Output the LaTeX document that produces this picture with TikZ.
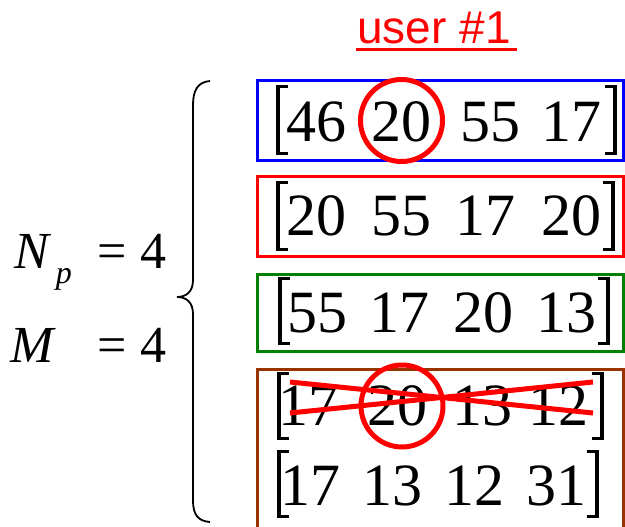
\documentclass[tikz,border=0pt]{standalone}
\usepackage{fontspec}
\setmainfont{Liberation Serif}
\newfontfamily\numfont{Liberation Serif}
\newfontfamily\titlefont{Liberation Sans}
\definecolor{boxgreen}{RGB}{0,128,0}
\definecolor{boxbrown}{RGB}{153,51,0}
\newcommand{\lbrk}[3]{\fill (#1,#2) rectangle (#1+4,#3); \fill (#1,#2) rectangle (#1+12,#2+3); \fill (#1,#3-3) rectangle (#1+12,#3);}
\newcommand{\rbrk}[3]{\fill (#1-4,#2) rectangle (#1,#3); \fill (#1-12,#2) rectangle (#1,#2+3); \fill (#1-12,#3-3) rectangle (#1,#3);}
\begin{document}
\begin{tikzpicture}[x=1pt,y=-1pt,
  num/.style={anchor=base,inner sep=0pt,font=\numfont\fontsize{60}{60}\selectfont},
  lhs/.style={anchor=base,inner sep=0pt,font=\numfont\fontsize{52}{52}\selectfont},
  lhsit/.style={anchor=base,inner sep=0pt,font=\numfont\itshape\fontsize{52}{52}\selectfont},
  rowbox/.style={line width=3pt},
  redmark/.style={red,line width=5pt}]
\useasboundingbox (0,0) rectangle (625,527);
% title
\node[anchor=base,inner sep=0pt,text=red,font=\titlefont\fontsize{46}{46}\selectfont] (title) at (434,44) {user \#1};
\draw[red,line width=3pt] (356,50) -- (517,50);
% boxes
\draw[rowbox,blue] (257,81) rectangle (623,161);
\draw[rowbox,red] (257,177) rectangle (623,256);
\draw[rowbox,boxgreen] (257,274) rectangle (623,351);
\draw[rowbox,boxbrown] (257,530) -- (257,369) -- (623,369) -- (623,530);
% row 1
\lbrk{276}{85}{155}\rbrk{617}{85}{155}
\node[num] (a1) at (316.5,142) {46};
\node[num] (a2) at (401.5,142) {20};
\node[num] (a3) at (490,142) {55};
\node[num] (a4) at (571.5,142) {17};
% row 2
\lbrk{276}{181}{251}\rbrk{615}{181}{251}
\node[num] (b1) at (316.5,235) {20};
\node[num] (b2) at (401.5,235) {55};
\node[num] (b3) at (485,235) {17};
\node[num] (b4) at (571.5,235) {20};
% row 3
\lbrk{278}{277}{345}\rbrk{610}{277}{345}
\node[num] (c1) at (317,332) {55};
\node[num] (c2) at (399,332) {17};
\node[num] (c3) at (483,332) {20};
\node[num] (c4) at (566.5,332) {13};
% row 4
\lbrk{277}{372}{440}\rbrk{604}{372}{440}
\node[num] (d1) at (308.5,425) {17};
\node[num] (d2) at (397.5,425) {20};
\node[num] (d3) at (482,425) {13};
\node[num] (d4) at (558,425) {12};
% row 5
\lbrk{277}{450}{518}\rbrk{599}{450}{518}
\node[num] (e1) at (310,505) {17};
\node[num] (e2) at (392.5,505) {13};
\node[num] (e3) at (474,505) {12};
\node[num] (e4) at (556,505) {31};
% circles and cross
\draw[redmark] (401.5,120.5) circle (41);
\draw[redmark] (402,406) circle (41);
\draw[redmark] (290,382) -- (593,413);
\draw[redmark] (290,413) -- (593,382);
% left side
\node[lhsit] (N) at (32,268) {N};
\node[anchor=base,inner sep=0pt,font=\numfont\itshape\fontsize{32}{32}\selectfont] (p) at (64,283) {p};
\node[lhs] (eq1) at (112.5,268) {=};
\node[lhs] (f1) at (153.5,268) {4};
\node[lhsit] (M) at (32,362) {M};
\node[lhs] (eq2) at (112.5,362) {=};
\node[lhs] (f2) at (153.5,362) {4};
% brace
\draw[line width=1.8pt] (210,81) .. controls (198,82) and (193,90) .. (193,105) -- (193,280) .. controls (193,292) and (186,297) .. (177,297) .. controls (186,297) and (193,302) .. (193,314) -- (193,500) .. controls (193,515) and (198,521) .. (210,522);
\end{tikzpicture}
\end{document}
